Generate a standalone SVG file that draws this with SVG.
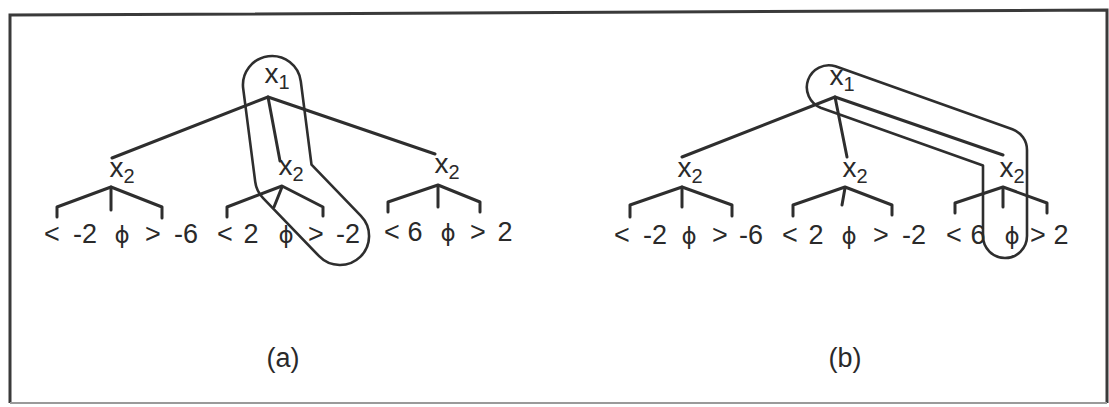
<svg xmlns="http://www.w3.org/2000/svg" width="1109" height="407" viewBox="0 0 1109 407">
<style>
.bg{fill:#ffffff}
.frame{fill:none;stroke:#3a3a3a;stroke-width:3}
.frameb{fill:none;stroke:#9a9a9a;stroke-width:2}
.edge{fill:none;stroke:#2e2e2e;stroke-width:3;stroke-linecap:round;stroke-linejoin:round}
.loop{fill:none;stroke:#2e2e2e;stroke-width:2.6;stroke-linejoin:round}
.var{font-family:"Liberation Sans",Arial,sans-serif;font-size:28px;fill:#2a2a2a;text-anchor:middle}
.sub{font-size:20px}
.lab{font-family:"Liberation Sans",Arial,sans-serif;font-size:27px;fill:#2a2a2a;text-anchor:middle}
.phi{font-family:"DejaVu Sans","Liberation Sans",sans-serif;font-size:23px;fill:#2a2a2a;text-anchor:middle}
.cap{font-family:"Liberation Sans",Arial,sans-serif;font-size:27px;fill:#2a2a2a;text-anchor:middle}
</style>
<rect class="bg" x="0" y="0" width="1109" height="407"/>
<path class="frame" d="M10,403 L10,15 L1107,10 L1107,403"/>
<path class="frameb" d="M10,403 L1107,403"/>

<g id="connectors">
  <!-- tree (a) -->
  <path class="edge" d="M112,158 L268,97 L435,154"/>
  <path class="edge" d="M268,97 L280,161"/>
  <path class="edge" d="M57,217 L57,207 L111,187 L162,207 L162,218"/>
  <path class="edge" d="M111,187 L111,210"/>
  <path class="edge" d="M227,217 L227,207 L282,186 L323,207 L323,216"/>
  <path class="edge" d="M282,187 L274,207"/>
  <path class="edge" d="M388,212 L388,202 L438,185 L480,202 L480,212"/>
  <path class="edge" d="M438,187 L438,207"/>
  <!-- tree (b) -->
  <path class="edge" d="M682,157 L835,97 L1003,155"/>
  <path class="edge" d="M835,97 L847,157"/>
  <path class="edge" d="M630,217 L630,205 L682,187 L732,205 L732,216"/>
  <path class="edge" d="M682,187 L682,207"/>
  <path class="edge" d="M793,216 L793,205 L845,187 L892,205 L892,215"/>
  <path class="edge" d="M845,188 L842,205"/>
  <path class="edge" d="M955,213 L955,203 L1003,187 L1047,203 L1047,213"/>
  <path class="edge" d="M1003,188 L1003,207"/>
</g>

<g id="highlight-a">
  <path class="loop" d="M300.8,81.3 L311.5,164.6 L360.9,215.8 A29,29 0 0,1 319.1,256.2 L263.1,198.2 A29,29 0 0,1 255.2,181.7 L243.2,88.7 A29,29 0 0,1 300.8,81.3 Z"/>
</g>
<g id="highlight-b">
  <path class="loop" d="M835.4,66.3 L1012.4,129.3 A22,22 0 0,1 1027,150 L1027,236 A22,22 0 0,1 983,236 L983,165.5 L820.6,107.7 A22,22 0 0,1 835.4,66.3 Z"/>
</g>

<!-- nodes (a) -->
<g id="a-x1"><text class="var" x="277" y="83">x<tspan class="sub" dy="6">1</tspan></text></g>
<g id="a-x2-left"><text class="var" x="122" y="177">x<tspan class="sub" dy="6">2</tspan></text></g>
<g id="a-x2-mid"><text class="var" x="291" y="175">x<tspan class="sub" dy="6">2</tspan></text></g>
<g id="a-x2-right"><text class="var" x="447" y="173">x<tspan class="sub" dy="6">2</tspan></text></g>

<g id="a-leaf-1"><text class="lab" x="52" y="243">&lt;</text><text class="lab" x="85" y="243">-2</text></g>
<g id="a-leaf-2"><text class="phi" x="122" y="243">ϕ</text></g>
<g id="a-leaf-3"><text class="lab" x="153" y="243">&gt;</text><text class="lab" x="186" y="243">-6</text></g>
<g id="a-leaf-4"><text class="lab" x="225" y="243">&lt;</text><text class="lab" x="251" y="243">2</text></g>
<g id="a-leaf-5"><text class="phi" x="286" y="243">ϕ</text></g>
<g id="a-leaf-6"><text class="lab" x="316" y="243">&gt;</text><text class="lab" x="348" y="243">-2</text></g>
<g id="a-leaf-7"><text class="lab" x="392" y="241">&lt;</text><text class="lab" x="415" y="241">6</text></g>
<g id="a-leaf-8"><text class="phi" x="448" y="241">ϕ</text></g>
<g id="a-leaf-9"><text class="lab" x="478" y="241">&gt;</text><text class="lab" x="505" y="241">2</text></g>

<!-- nodes (b) -->
<g id="b-x1"><text class="var" x="842" y="85">x<tspan class="sub" dy="6">1</tspan></text></g>
<g id="b-x2-left"><text class="var" x="690" y="177">x<tspan class="sub" dy="6">2</tspan></text></g>
<g id="b-x2-mid"><text class="var" x="855" y="177">x<tspan class="sub" dy="6">2</tspan></text></g>
<g id="b-x2-right"><text class="var" x="1012" y="177">x<tspan class="sub" dy="6">2</tspan></text></g>

<g id="b-leaf-1"><text class="lab" x="622" y="244">&lt;</text><text class="lab" x="655" y="244">-2</text></g>
<g id="b-leaf-2"><text class="phi" x="689" y="244">ϕ</text></g>
<g id="b-leaf-3"><text class="lab" x="720" y="244">&gt;</text><text class="lab" x="751" y="244">-6</text></g>
<g id="b-leaf-4"><text class="lab" x="790" y="244">&lt;</text><text class="lab" x="816" y="244">2</text></g>
<g id="b-leaf-5"><text class="phi" x="849" y="244">ϕ</text></g>
<g id="b-leaf-6"><text class="lab" x="881" y="244">&gt;</text><text class="lab" x="914" y="244">-2</text></g>
<g id="b-leaf-7"><text class="lab" x="954" y="244">&lt;</text><text class="lab" x="978" y="244">6</text></g>
<g id="b-leaf-8"><text class="phi" x="1012" y="244">ϕ</text></g>
<g id="b-leaf-9"><text class="lab" x="1038" y="244">&gt;</text><text class="lab" x="1061" y="244">2</text></g>

<g id="caption-a"><text class="cap" x="283" y="367">(a)</text></g>
<g id="caption-b"><text class="cap" x="845" y="367">(b)</text></g>
</svg>
